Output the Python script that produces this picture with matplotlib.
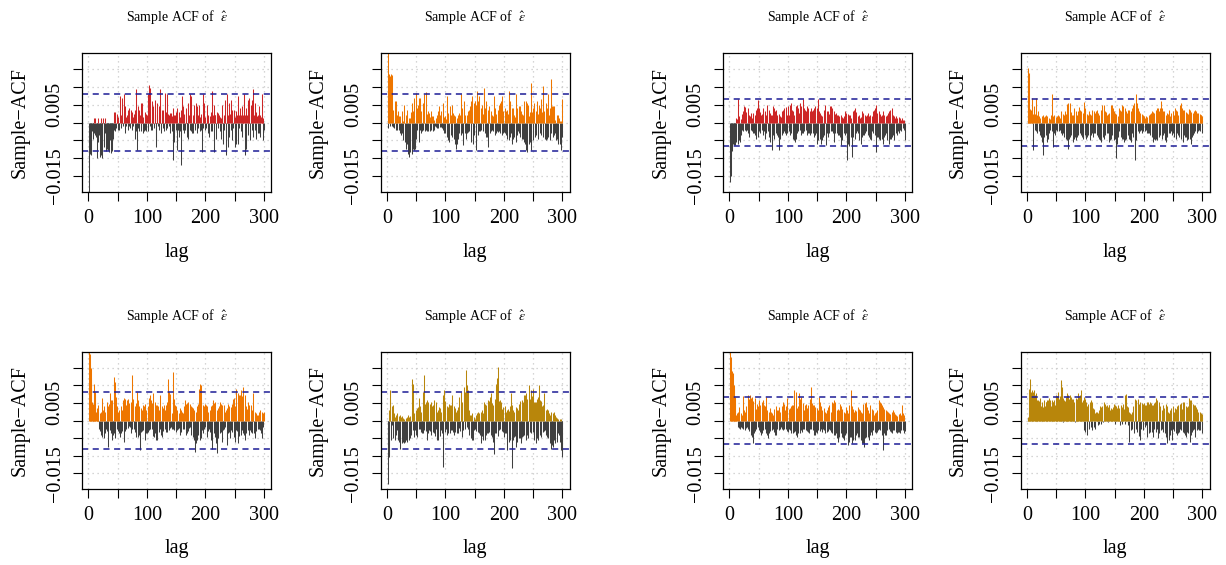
import numpy as np
import matplotlib.pyplot as plt

plt.rcParams['font.family'] = ['Liberation Serif', 'DejaVu Serif']
plt.rcParams['mathtext.fontset'] = 'stix'

# sample ACF values, in units of 1e-4, lags 1..300
lags = np.arange(1, 301)

acf_top_1 = [
    -205, -60, -89, -90, -40, -25, -45, -20, -30, 12,
    -35, 12, -40, -25, -100, -55, 12, -35, -97, -60,
    12, -92, -40, -100, 12, -60, -70, 12, -30, -80,
    -75, -40, -78, -30, -82, -50, -35, -85, -60, -45,
    -80, -45, 30, -20, -25, 30, -15, 20, 25, -20,
    15, -5, -20, 74, 20, -15, 68, 25, -10, 79,
    30, -30, 45, -10, 15, 22, -20, 35, -10, 40,
    -15, 35, 10, 30, -20, 15, -10, 25, -45, 35,
    -25, 93, -76, 45, -15, 35, -25, 20, 55, -25,
    20, 55, -30, 15, -25, 30, -20, 25, -25, 20,
    79, -25, 74, 105, -10, 97, -20, 60, -20, 30,
    45, -15, 25, 64, -68, -45, 55, 20, -10, 45,
    -20, 50, 93, -30, 25, 35, -15, 35, -25, 20,
    83, -20, 30, -15, 81, 25, -10, 20, 27, -30,
    27, -25, 17, -104, 40, -55, 20, 22, -20, 30,
    -78, 40, -20, 30, -40, 15, -25, 35, -120, 74,
    -20, 45, -30, 25, -20, 27, 40, -15, -40, 55,
    -45, 20, 79, -20, -25, 74, -30, 20, -30, 25,
    50, -20, 30, 55, -30, 45, -15, 20, 50, -25,
    15, 25, -20, -82, 79, -15, 30, 55, -20, 15,
    -15, 20, 50, -30, 20, -40, 15, 17, -25, 30,
    88, -25, 20, 50, -82, 20, 22, -45, 15, 30,
    27, -15, 20, -25, 15, 12, -45, 20, 50, -60,
    22, -20, 15, 64, -92, 15, 79, -68, 20, 55,
    -40, 25, 64, -20, -50, 35, -15, 20, 36, -68,
    15, -60, 31, 20, 74, -60, 20, -15, 40, 20,
    -25, 45, -40, 20, 15, 79, -92, 20, 40, -75,
    20, 64, -35, 69, 20, -50, 50, 25, -20, 64,
    93, -40, 20, 55, -20, 30, -45, 17, 20, -30,
    45, -30, 20, -40, 15, 20, 79, -50, 12, -20,
]

acf_top_2 = [
    210, -15, 60, 135, 130, -10, 135, -10, 133, -12,
    36, -16, 20, 60, -20, 60, 22, -20, 31, -20,
    17, -30, 17, -35, 31, -30, 3, -49, 20, 50,
    -55, 22, -73, 36, -60, -87, 12, -97, 12, -83,
    30, -87, 55, -75, 31, -78, 69, -73, 83, -45,
    40, -20, 50, -55, 69, -20, 69, -30, 31, -25,
    55, -22, 40, 79, -25, 85, -20, 25, -25, 31,
    -25, 28, -25, 15, 31, -20, 17, -25, 17, -20,
    8, -10, 12, -12, 20, -15, 31, -15, 45, -12,
    20, -12, 31, -15, 55, -22, 15, -30, 17, -30,
    10, -40, 74, -49, 27, -55, 20, 45, -35, 22,
    50, -40, 27, -45, 22, -59, 17, -73, 12, -60,
    22, -45, 27, -30, 20, -35, 79, -30, 40, -64,
    30, 60, -30, 22, -45, 20, -30, 31, -28, 36,
    -25, 45, 60, -54, 30, 74, -59, 55, -35, 40,
    60, -78, 50, 88, -35, 60, -25, 74, -25, 40,
    -20, 20, 50, -25, 25, 98, -30, 40, -40, 60,
    -40, 36, -68, 22, 45, -30, 31, -25, 22, -20,
    17, -25, 74, -35, 40, -30, 25, -25, 36, -28,
    50, -25, 55, -30, 60, -35, 74, -30, 31, -28,
    40, -30, 31, -35, 36, -45, 25, -49, 88, -40,
    60, -30, 40, -59, 40, -45, 20, -40, 15, -55,
    79, -35, 40, -25, 45, -30, 45, -40, 31, -45,
    25, -45, 20, -55, 60, -60, 60, -78, 55, -82,
    50, -60, 17, -55, 30, 112, -78, 30, 40, -50,
    20, 55, -40, 31, -35, 20, 60, -45, 25, 50,
    -30, 40, 66, -35, 30, 102, -40, 25, 31, -45,
    55, -49, 40, -45, 79, -40, 22, -49, 40, 121,
    -30, 45, -40, 45, -35, 45, -30, 8, -49, 22,
    -45, 20, -59, 12, -60, 3, -76, 5, -40, 67,
]

acf_top_3 = [
    -168, -150, -92, -80, -50, -60, -40, -63, -30, -63,
    12, -55, 10, -60, 66, -50, 17, -55, 10, -35,
    25, -20, 31, -25, 45, -20, 43, -25, 30, -20,
    40, -30, 22, -40, 17, -20, 27, -25, 12, -30,
    26, -30, 20, -35, 36, -45, 40, 63, -40, 40,
    -25, 30, -30, 22, -20, 25, -35, 40, -25, 31,
    -45, 22, -30, 15, 50, -25, 36, -40, 27, -55,
    20, -78, 22, 45, -35, 40, -45, 31, -30, 36,
    -35, 20, -40, 25, -78, 17, -45, 15, -35, 31,
    -30, 36, -25, 40, -30, 43, -35, 22, -30, 45,
    -25, 20, 50, -35, 55, -30, 36, -45, 31, -50,
    22, -54, 45, -45, 50, -30, 40, -25, 27, -20,
    55, -35, 45, -30, 66, -30, 40, -25, 36, -20,
    31, -35, 45, -30, 40, -30, 31, -35, 40, -30,
    31, -30, 36, -40, 40, -35, 45, -30, 40, -59,
    66, -50, 31, -45, 27, -59, 22, -50, 17, -40,
    36, -35, 22, 50, -63, 31, -30, 31, -40, 25,
    -30, 45, -25, 45, -25, 40, -30, 31, -54, 25,
    -30, 27, -30, 22, -35, 20, -35, 17, -40, 22,
    -63, 15, -50, 12, -30, 17, -35, 31, -30, 27,
    -106, 25, -60, 22, -65, 20, -40, 12, -30, -97,
    31, -40, 36, -45, 40, -30, 30, -25, 17, -30,
    20, -50, 12, -60, 15, -40, 31, -35, 27, -35,
    22, -30, 17, -25, 22, -35, 27, -40, 17, -45,
    22, -50, 17, -25, 31, -30, 36, -35, 40, -82,
    50, -40, 27, -40, 31, -45, 25, -50, 17, -45,
    22, -59, 31, -40, 22, -35, 17, -30, 20, -50,
    27, -60, 31, -45, 36, -45, 40, -40, 22, -35,
    17, -50, 12, -30, 17, -35, 12, -25, 15, -30,
    12, -20, 8, -25, 12, -15, 8, -20, 8, -50,
]

acf_top_4 = [
    152, 150, 140, 40, 38, 30, 35, 20, 69, 25,
    -78, 45, -20, 25, 69, -25, 20, -30, 31, -25,
    17, -35, 12, -40, -54, 17, -92, 20, 15, -40,
    17, -35, 20, -54, 17, -45, 12, -30, 10, -20,
    20, -25, 80, -68, 17, -30, 22, -35, 15, -20,
    17, -25, 22, -25, 17, -20, 12, -30, 31, -35,
    25, -30, 20, -40, 31, -45, 25, -50, 53, -73,
    55, -45, 55, -40, 30, -35, 22, -54, 20, -45,
    40, -40, 31, -50, 22, -40, 31, -35, 43, -30,
    36, -35, 31, -40, 27, -45, 36, 58, -35, 40,
    -45, 25, -40, 22, -35, 31, -50, 25, -35, 22,
    -30, 34, -40, 31, -30, 27, -30, 31, -35, 36,
    -40, 27, -45, 22, -50, 36, -54, 40, 50, -40,
    50, -45, 31, -35, 30, -30, 22, -30, 25, -55,
    27, -50, 50, -45, 50, -35, 40, -50, 31, -45,
    27, -99, 25, -60, 17, -40, 40, -25, 35, -40,
    31, -45, 50, -45, 45, -54, 40, -50, 31, -45,
    27, -35, 35, -45, 36, -50, 31, -54, 40, -30,
    50, -40, 55, -60, -106, 79, -50, 55, -25, 40,
    -30, 31, -25, 27, -20, 25, -30, 22, -25, 17,
    -25, 12, -20, 17, -30, 15, -30, 22, -30, 25,
    -35, 27, -40, 31, -54, 30, -45, 27, -50, 36,
    -45, 40, -50, 40, -40, 31, -35, 40, 60, -45,
    40, -35, 31, -30, 31, -50, 22, -54, 27, -40,
    25, -30, 36, -30, 17, -25, 27, -35, 31, -30,
    22, -40, 40, -45, 36, -30, 31, -35, 22, -40,
    40, 50, 55, -45, 40, -54, 36, -35, 36, -40,
    30, -40, 27, -50, 25, -45, 38, -45, 34, -59,
    30, -40, 27, -35, 31, -30, 36, -25, 31, -30,
    27, -25, 27, -20, 25, -25, 22, 20, -30, 17,
]

acf_bottom_1 = [
    210, 190, 157, 150, 120, 53, 45, 48, 30, 105,
    80, 72, 25, 35, 34, 25, 45, -23, 20, -30,
    25, -40, 63, -47, 30, -51, 40, -37, 25, -23,
    53, -30, 40, -75, 48, -28, 77, -35, 57, -56,
    58, -40, 124, -37, 110, -51, 67, -23, 40, -30,
    25, -37, 30, -47, 40, -37, 30, -30, 57, -61,
    63, -30, 62, -23, 45, 58, -20, 62, -15, 50,
    -18, 53, -37, 129, -25, 45, 62, -23, 40, -32,
    50, -46, 81, -47, 58, -40, 42, -84, 35, -32,
    30, -30, 45, -28, 40, -56, 48, -37, 30, -37,
    40, -32, 63, -28, 72, -25, 58, -23, 50, -45,
    77, -47, 53, -37, 45, -56, 43, -56, 40, -32,
    30, -23, 72, -40, 40, -47, 35, -30, 43, -25,
    30, -32, 45, -32, 53, 119, -28, 82, -20, 75,
    -18, 20, -23, 138, -25, 62, -28, 45, -32, 40,
    -28, 30, -25, 20, -20, 35, -42, 30, -32, 25,
    -23, 20, -25, 40, 57, -42, 48, -37, 50, -30,
    53, -20, 48, -18, 40, -40, 38, -47, 35, -56,
    30, -89, 25, -65, 40, -56, 48, -42, 90, -56,
    105, -50, 100, -28, 45, -37, 40, -23, 48, -18,
    43, -47, 40, -30, 25, -23, 30, -32, 40, -56,
    45, -80, 58, -37, 50, -47, 53, -65, 30, -92,
    35, -51, 40, -37, 53, -32, 48, -61, 45, -28,
    43, -25, 25, -18, 30, -70, 35, -37, 48, -32,
    40, -51, 38, -28, 48, -32, 62, -47, 65, -61,
    40, -28, 91, -30, 77, -65, 72, -45, 72, -42,
    86, -28, 70, -37, 96, -42, 72, -56, 40, -37,
    34, -28, 53, -42, 43, -28, 45, -32, 30, -37,
    40, 77, -37, 25, -51, 20, -30, 17, -25, 15,
    -23, 25, -28, 30, -35, 25, -51, 22, -18, 25,
]

acf_bottom_2 = [
    -181, -60, -103, 30, 60, 86, -56, 40, -14, 45,
    -51, 20, -56, 10, -40, 15, -28, 20, -56, 12,
    -60, 15, -80, 10, -65, 12, -60, 8, -65, 5,
    -60, 8, -56, 10, -60, 15, -55, 10, -51, 12,
    -40, 25, 119, -28, 105, -47, 20, -28, 30, -42,
    35, -47, 38, -25, 63, -23, 40, -32, 25, -37,
    81, -37, 129, -28, 48, -30, 53, -56, 58, -37,
    53, -28, 48, -30, 53, -42, 40, -32, 43, -35,
    58, -45, 53, -23, 25, -55, 30, -56, 38, -45,
    35, -28, 25, -35, 72, -132, 80, 86, -32, 55,
    -23, 40, -42, 38, -37, 48, -35, 43, -28, 45,
    -27, 72, -32, 40, -40, 35, -32, 25, -35, 30,
    -37, 38, -20, 67, -30, 50, 81, -47, 53, -28,
    60, 96, -23, 80, 143, -18, 100, 86, -23, 30,
    -42, 15, -51, 17, -56, 20, -56, 10, -28, 5,
    -25, 15, -30, 20, -32, 25, -37, 20, -42, 25,
    -65, 30, -45, 20, -55, 53, -56, 48, -42, 45,
    -37, 58, -37, 55, -32, 67, -40, 77, -47, 50,
    -60, 45, -94, 60, -37, 105, -35, 120, 152, -45,
    55, -28, 58, -25, 53, -30, 34, -32, 38, -47,
    40, -37, 25, -35, 30, -84, 34, -60, 28, -55,
    40, 77, -136, 43, -56, 30, -47, 25, -45, 38,
    -75, 35, -60, 30, -51, 48, -51, 55, -65, 58,
    -47, 53, -45, 72, -42, 72, -56, 77, -42, 62,
    -51, 72, 100, -32, 60, 86, -37, 70, 91, -32,
    53, -56, 53, -65, 53, -51, 62, -56, 67, 100,
    -42, 58, 55, -47, 40, -32, 45, -30, 77, -28,
    30, -42, 34, -47, 30, -51, 20, -65, 15, -82,
    25, -70, 20, -75, 25, -56, 15, -65, 10, -60,
    8, -35, 5, -42, 5, -60, -84, 3, -90, -103,
]

acf_bottom_3 = [
    200, 180, 148, 140, 120, 134, 100, 91, 67, 50,
    15, 10, 20, -18, 25, -20, 39, -23, 20, -18,
    15, -20, 69, -23, 30, -27, 25, -20, 40, -18,
    72, -25, 60, -30, 72, -40, 63, -46, 67, -65,
    55, -37, 63, -30, 34, -23, 48, -18, 40, -28,
    58, -32, 45, -42, 53, -35, 58, -28, 43, -23,
    40, -37, 67, -42, 30, -51, 25, -37, 35, -30,
    25, -28, 20, -23, 15, -32, 34, -40, 40, -42,
    30, -23, 30, -28, 38, -25, 25, -18, 40, -23,
    53, -28, 48, -25, 30, -23, 40, -30, 63, -32,
    34, -23, 35, -28, 40, -35, 43, -37, 45, -32,
    86, -30, 81, -42, 35, -46, 40, -37, 77, -35,
    60, -28, 67, -32, 50, -25, 30, -23, 43, -28,
    48, -30, 35, -32, 45, -37, 62, -25, 96, -23,
    50, -28, 45, -40, 43, -42, 38, -32, 35, -37,
    30, -28, 67, -30, 53, -25, 40, -32, 30, -23,
    35, -28, 25, -37, 20, -32, 30, -30, 38, -25,
    43, -28, 25, -32, 53, -37, 50, -40, 58, -42,
    53, -37, 30, -51, 34, -61, 30, -46, 48, -37,
    40, -46, 34, -50, 25, -56, 20, -42, 38, -35,
    30, -70, 20, -60, 43, -46, 86, -46, 40, -65,
    34, -56, 25, -56, 30, -42, 28, -37, 38, -46,
    34, -46, 30, -56, 25, -65, 20, -65, 48, -75,
    50, -51, 53, -46, 38, -46, 30, -56, 20, -40,
    43, -32, 34, -42, 30, -28, 15, -32, 20, -37,
    25, -32, 30, -28, 58, -23, 53, -28, 50, -40,
    43, -84, 38, -37, 34, -42, 30, -40, 28, -28,
    25, -23, 20, -30, 18, -32, 25, -37, 30, -28,
    25, -28, 18, -32, 15, -37, 12, -32, 18, -32,
    20, -37, 15, -28, 43, -28, 20, -37, 15, -30,
]

acf_bottom_4 = [
    10, 8, 15, 91, 70, 119, 80, 85, 86, 81,
    60, 86, 55, 72, 50, 77, 45, 58, 58, 30,
    55, 63, 58, 40, 53, 35, 39, 20, 30, 58,
    40, 53, 53, 35, 58, 58, 45, 63, 50, 58,
    40, 58, 45, 53, 53, 35, 58, 45, 58, 72,
    60, 70, 81, 50, 62, 63, 70, 115, 110, 96,
    -4, 63, 50, 58, 55, 40, 67, 60, 77, 70,
    72, 60, 72, 55, 67, 50, 62, 60, 58, 40,
    53, -4, 45, 63, 62, 40, 77, 72, 67, 60,
    72, 86, 60, 53, 58, 50, 67, -28, 60, -32,
    53, 40, -42, 48, 30, -23, 53, 40, -18, 58,
    -28, 53, 35, -18, 34, 20, -23, 25, 15, 25,
    -14, 20, 30, -9, 40, -9, 38, 30, 40, -4,
    53, 50, 45, 48, 40, 45, 35, 38, -4, 43,
    45, 30, 30, 35, 25, 33, 38, 45, 48, -9,
    45, 38, 40, 35, 43, 40, 35, 34, -14, 40,
    43, -9, 38, 48, 45, 34, -9, 72, 75, 50,
    40, -14, 38, 25, -61, 20, 18, -28, 25, -23,
    30, 40, -37, 55, 60, -23, 58, -32, 62, 50,
    -45, 48, -56, 53, -23, 50, 45, -28, 48, 50,
    -18, 45, -13, 43, 53, -47, 53, -37, 48, -32,
    53, 50, -32, 45, -47, 43, 50, -23, 53, -32,
    63, -25, 58, -51, 53, -37, 40, 35, -28, 30,
    -23, 43, -32, 34, 35, -37, 48, -47, 40, -65,
    25, -56, 20, -42, 30, -28, 35, -56, 40, -23,
    25, -30, 35, -37, 34, -42, 40, -37, 43, -32,
    48, -23, 50, -28, 34, -32, 53, -37, 53, -42,
    40, -47, 38, -32, 40, -37, 63, -61, 58, -42,
    57, -32, 48, -28, 45, -23, 43, -47, 38, -28,
    34, -23, 25, -28, 25, -28, 20, 15, -37, 18,
]

panel_series = [acf_top_1, acf_top_2, acf_top_3, acf_top_4,
                acf_bottom_1, acf_bottom_2, acf_bottom_3, acf_bottom_4]
panel_colors = ['#cd2626', '#ee7600', '#cd2626', '#ee7600',
                '#ee7600', '#b8860b', '#ee7600', '#b8860b']
conf_bounds = [0.0081, 0.0081, 0.0066, 0.0066,
               0.0081, 0.0081, 0.0066, 0.0066]

y_ticks = [-0.015, -0.010, -0.005, 0.0, 0.005, 0.010, 0.015]
y_ticklabels = ['\u22120.015', '', '', '', '0.005', '', '']
x_ticks = [0, 50, 100, 150, 200, 250, 300]
x_ticklabels = ['0', '', '100', '', '200', '', '300']

W, H = 1226, 565
fig = plt.figure(figsize=(W / 100, H / 100), dpi=100)

# box edges in pixels
col_left = [82, 380.5, 723, 1020.5]
box_w = 189
row_top = [53, 352]
box_h = [139, 137]

for i, vals in enumerate(panel_series):
    r, c = divmod(i, 4)
    ax = fig.add_axes([col_left[c] / W, 1 - (row_top[r] + box_h[r]) / H,
                       box_w / W, box_h[r] / H])
    v = np.array(vals) / 1e4
    pos = v > 0
    ax.vlines(lags[~pos], 0, v[~pos], colors='#3f3f3f', linewidth=0.75)
    ax.vlines(lags[pos], 0, v[pos], colors=panel_colors[i], linewidth=0.75)
    for b in (conf_bounds[i], -conf_bounds[i]):
        ax.axhline(b, color='#1c1c96', linewidth=1.1, dashes=(4, 3))

    ax.set_xlim(-11, 312)
    ax.set_ylim(-0.0195, 0.0195)
    ax.set_xticks(x_ticks)
    ax.set_xticklabels(x_ticklabels)
    ax.set_yticks(y_ticks)
    ax.set_yticklabels(y_ticklabels, rotation=90, va='center')
    ax.grid(True, color='#c8c8c8', linestyle=(0, (1, 3)), linewidth=0.9)
    ax.set_axisbelow(True)
    ax.tick_params(length=6.5, width=0.8, labelsize=14.5, direction='out')
    ax.tick_params(axis='x', pad=6)
    ax.tick_params(axis='y', pad=6)
    for s in ax.spines.values():
        s.set_linewidth(0.9)

    ax.text(-62 / box_w, 0.5, 'Sample\u2212ACF', rotation=90, ha='center',
            va='center', fontsize=14.5, transform=ax.transAxes)
    ax.text(0.5, -60 / box_h[r], 'lag', ha='center', va='center',
            fontsize=14.5, transform=ax.transAxes)
    ax.text(0.5, 1 + 36 / box_h[r], r'Sample ACF of  $\hat{\varepsilon}$',
            ha='center', va='center', fontsize=10, transform=ax.transAxes)

fig.savefig('out.png', dpi=100)
